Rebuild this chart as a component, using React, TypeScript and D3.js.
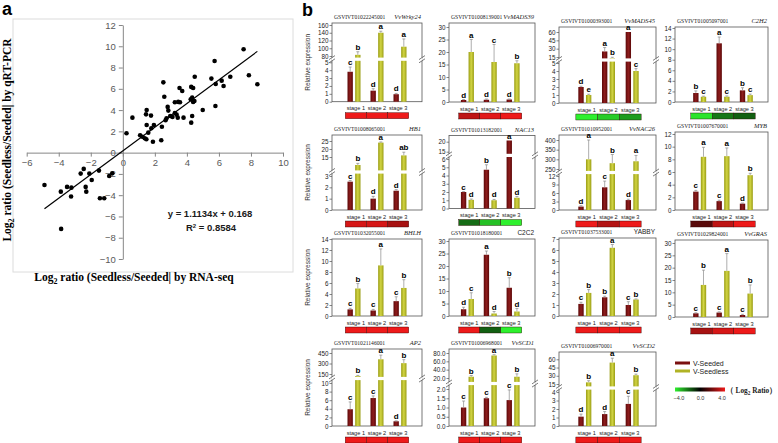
import React, { useEffect, useRef } from 'react';
import * as d3 from 'd3';

// ---- panel a: RNA-seq vs qRT-PCR ----
const rnaSeq = [
  7.54, 5.73, 7.87, 6.71, 4.49, 5.53, 6.17, 2.53, 5.8, 8.4, 6.29, 4.27, 3.54, 4.39, 3.71, 2.59, 4.33, 4.24,
  4.47, 3.46, 3.25, 3.57, 4.39, 4.99, 5.78, 1.49, 2.8, 2.84, 1.45, 1.76, 0.6, 3.25, 3.36, 2.96, 3.1, 3.43,
  3.79, 4.33, 2.73, 2.67, 1.49, 1.94, 2.44, 1.78, 4.27, 0.23, 1.59, 1.08, 1.22, 1.37, 1.47, 1.88, 2.4,
  -4.89, -3.87, -3.48, -3.21, -3.23, -2.63, -2.44, -2.09, -1.94, -2.32, -2.28, -1.49, -0.85, -0.66, -1.43,
  -1.16, -3.85,
];
const qPcr = [
  9.72, 8.62, 7.27, 7.14, 7.14, 6.96, 6.77, 6.61, 6.45, 6.43, 6.27, 6.18, 6.08, 6.08, 5.8, 5.26, 5.17, 5.02,
  4.86, 4.77, 4.74, 4.74, 4.77, 4.01, 4.39, 4.01, 4.3, 3.95, 3.6, 3.48, 3.29, 3.73, 3.57, 3.45, 3.35, 3.29,
  3.29, 3.45, 3.23, 3.05, 2.6, 2.6, 2.44, 2.29, 2.82, 1.82, 1.88, 1.63, 1.5, 1.35, 1.26, 1.03, 1.16,
  -3.04, -3.67, -3.22, -3.29, -4.13, -1.97, -1.53, -1.97, -2.57, -3.22, -3.67, -1.69, -2.19, -1.94, -4.29,
  -4.29, -7.17,
];
const slope = 1.1134;
const intercept = 0.168;
const rSquared = '0.8584';
const xTicksA = [-6, -4, -2, 0, 2, 4, 6, 8, 10];
const yTicksA = [12, 10, 8, 6, 4, 2, 0, -2, -4, -6, -8, -10];

// ---- panel b: relative expression ----
const stages = ['stage 1', 'stage 2', 'stage 3'];
const series = ['V-Seeded', 'V-Seedless'];
const geneIds = [
  'GSVIVT01022245001', 'GSVIVT01008139001', 'GSVIVT01000393001', 'GSVIVT01005097001',
  'GSVIVT01008065001', 'GSVIVT01013182001', 'GSVIVT01010952001', 'GSVIVT01007670001',
  'GSVIVT01032055001', 'GSVIVT01018180001', 'GSVIVT01037533001', 'GSVIVT01029824001',
  'GSVIVT01021146001', 'GSVIVT01006968001', 'GSVIVT01006970001',
];
const geneNames = [
  'VvWrky24', 'VvMADS39', 'VvMADS45', 'C2H2', 'HB1', 'NAC13', 'VvNAC26', 'MYB',
  'BHLH', 'C2C2', 'YABBY', 'VvGRAS', 'AP2', 'VvSCD1', 'VvSCD2',
];
const seededMean = [
  [3.8, 1.4, 0.95], [0.8, 0.9, 1.0], [2.0, 25, 60], [1.7, 11.1, 2.2],
  [2.5, 1.0, 1.7], [2.0, 4.7, 20.6], [1.2, 8.0, 3.5], [2.9, 1.4, 1.0],
  [1.2, 1.0, 2.7], [2.7, 24.5, 11.3], [1.1, 1.7, 1.0], [1.5, 1.8, 0.8],
  [3.9, 6.5, 1.1], [1.0, 1.5, 1.4], [1.1, 1.4, 2.6],
];
const seededErr = [
  [0.6, 0.25, 0.1], [0.2, 0.3, 0.2], [0.1, 7, 0], [0.4, 1.2, 0.5],
  [0.1, 0.2, 0.1], [0.05, 0.6, 0], [0.3, 2.2, 0.3], [0.2, 0.15, 0.1],
  [0.2, 0.2, 0.8], [0.8, 1.5, 4], [0.15, 0.1, 0.3], [0.2, 0.3, 0.3],
  [1.7, 0.5, 0.1], [0.35, 0.05, 0.55], [0.3, 0.3, 0.9],
];
const seededSig = [
  ['c', 'd', 'd'], ['d', 'd', 'd'], ['d', 'a', 'a'], ['b', 'a', 'b'],
  ['c', 'd', 'd'], ['c', 'b', 'a'], ['d', 'c', 'd'], ['c', 'c', 'd'],
  ['c', 'c', 'c'], ['d', 'a', 'b'], ['c', 'b', 'c'], ['c', 'c', 'c'],
  ['c', 'c', 'd'], ['c', 'c', 'c'], ['d', 'd', 'c'],
];
const seedlessMean = [
  [83, 140, 104], [20, 16, 15.5], [1.0, 13, 4.0], [1.0, 1.0, 1.3],
  [10, 24, 16], [1.05, 1.0, 1.3], [300, 280, 290], [8.4, 8.5, 5.5],
  [5.0, 9.2, 5.1], [6.8, 1.0, 1.8], [2.1, 6.2, 1.5], [13, 18.7, 9.5],
  [120, 360, 305], [23, 74, 23], [18, 54, 31],
];
const seedlessErr = [
  [8, 4, 20], [5, 7, 1], [0.1, 1.5, 0.3], [0.1, 0.15, 0.2],
  [1, 0.4, 2], [0.1, 0.1, 0.15], [100, 45, 30], [1.5, 1.3, 0.3],
  [0.9, 3.0, 1.5], [2.5, 0.8, 1.2], [0.3, 0.3, 0.05], [6, 7, 3.5],
  [10, 60, 50], [3, 2, 7], [3, 8, 2],
];
const seedlessSig = [
  ['b', 'a', 'a'], ['a', 'c', 'b'], ['e', 'b', 'c'], ['c', 'c', 'c'],
  ['b', 'a', 'ab'], ['d', 'd', 'd'], ['a', 'b', 'a'], ['a', 'a', 'b'],
  ['b', 'a', 'b'], ['c', 'd', 'd'], ['b', 'a', 'b'], ['b', 'a', 'b'],
  ['b', 'a', 'b'], ['b', 'a', 'b'], ['b', 'a', 'b'],
];
const lowTicks = [
  [0, 1, 2, 3, 4, 5], [0, 5, 10, 15, 20, 25, 30], [0, 1, 2, 3, 4, 5], [0, 2, 4, 6, 8, 10, 12, 14],
  [0, 1, 2, 3], [0, 1, 2, 3, 4, 5, 6], [0, 3, 6, 9, 12], [0, 2, 4, 6, 8, 10, 12],
  [0, 2, 4, 6, 8, 10, 12, 14], [0, 5, 10, 15, 20, 25, 30], [0, 1, 2, 3, 4, 5, 6, 7], [0, 5, 10, 15, 20, 25, 30],
  [0, 2, 4, 6, 8, 10], [0, 0.5, 1, 1.5, 2], [0, 1, 2, 3, 4],
];
const highTicks = [
  [80, 100, 120, 140, 160], null, [15, 30, 45, 60], null,
  [15, 20, 25], [15, 20], [250, 300, 350, 400], null,
  null, null, null, null,
  [150, 300, 450], [20, 40, 60, 80], [15, 30, 45, 60],
];
const tickDecimals = [0, 0, 0, 0, 0, 0, 0, 0, 0, 0, 0, 0, 0, 1, 0];
// log2 ratio (seedless/seeded) shown in the heat strip under each chart
const log2Ratio = [
  [4, 4, 4], [3.2, 3.8, 4], [-4, -3.4, -2.6], [-3.8, -2.0, -1.6],
  [3.6, 3.6, 2.8], [-1.8, -3.2, -4], [4, 3.0, 4], [1.5, 3.2, 4],
  [4, 4, 4], [4, -1.6, -4], [4, 4, 4], [2.8, 3.6, 4],
  [4, 4, 4], [4, 4, 4], [4, 4, 4],
];
const legendTicks = [-4, 0, 4];

// ---- layout (pixels) ----
const colBox = [[332, 422], [449, 535], [559, 656], [675, 768]];
const barRange = [[342.5, 411.5], [456, 524.5], [573, 644], [688, 758]];
const panelGeom = [
  { top: 23, zero: 101.7, lowTop: 62.3, high: [56, 25], brk: 59.2 },
  { top: 23, zero: 102, lowTop: 27 },
  { top: 27, zero: 103, lowTop: 63, high: [57, 32], brk: 60 },
  { top: 27, zero: 102, lowTop: 28 },
  { top: 135, zero: 210, lowTop: 176, high: [157, 141], brk: 172 },
  { top: 135.5, zero: 208.5, lowTop: 159, high: [151.7, 141.7], brk: 155.4 },
  { top: 135, zero: 210, lowTop: 176, high: [169, 140], brk: 172.5 },
  { top: 132, zero: 210, lowTop: 134 },
  { top: 239, zero: 316, lowTop: 239 },
  { top: 239, zero: 316, lowTop: 241 },
  { top: 238, zero: 316, lowTop: 239 },
  { top: 240, zero: 317, lowTop: 243 },
  { top: 349, zero: 426, lowTop: 383, high: [374, 353], brk: 378.5 },
  { top: 349, zero: 426, lowTop: 389, high: [378, 353], brk: 383.5 },
  { top: 352, zero: 426, lowTop: 392, high: [384, 359.3], brk: 388 },
];

const seededColor = '#7a1010';
const seedlessColor = '#b0b325';
const heat = d3.scaleLinear<string>().domain([-4, 0, 4]).range(['#2ef02e', '#000000', '#ee1a1a']).clamp(true);

const App = () => {
  const svgRef = useRef<SVGSVGElement | null>(null);

  useEffect(() => {
    const svg = d3.select(svgRef.current);
    svg.selectAll('*').remove();
    drawScatter(svg);
    drawBars(svg);
    drawLegend(svg);
  }, []);

  const drawScatter = (svg: any) => {
    svg.append('rect')
      .attr('x', 13).attr('y', 19).attr('width', 280).attr('height', 253)
      .attr('fill', 'none').attr('stroke', '#dcdcdc');

    svg.append('text')
      .attr('x', 2).attr('y', 15)
      .style('font', 'bold 18px Arial')
      .text('a');

    const x = d3.scaleLinear().domain([-6, 10]).range([26.7, 283]);
    const y = d3.scaleLinear().domain([-10, 12]).range([259, 25]);

    const styleAxis = (a: any) => {
      a.attr('font-size', 9.5).attr('font-family', 'Arial');
      a.select('.domain').attr('stroke', '#868686');
      a.selectAll('line').attr('stroke', '#868686');
      a.selectAll('text').attr('fill', '#595959');
    };

    svg.append('g')
      .attr('transform', `translate(0,${y(0)})`)
      .call(d3.axisBottom(x).tickValues(xTicksA).tickSize(4).tickSizeOuter(0))
      .call(styleAxis);

    svg.append('g')
      .attr('transform', `translate(${x(0)},0)`)
      .call(d3.axisLeft(y).tickValues(yTicksA).tickSize(4).tickSizeOuter(0))
      .call(styleAxis);

    const [xmin, xmax] = d3.extent(rnaSeq) as [number, number];
    svg.append('line')
      .attr('x1', x(xmin)).attr('y1', y(slope * xmin + intercept))
      .attr('x2', x(xmax)).attr('y2', y(slope * xmax + intercept))
      .attr('stroke', '#000').attr('stroke-width', 1.2);

    svg.append('g')
      .selectAll('circle')
      .data(rnaSeq)
      .join('circle')
      .attr('cx', (d: number) => x(d))
      .attr('cy', (d: number, i: number) => y(qPcr[i]))
      .attr('r', 2.3)
      .attr('fill', '#000');

    svg.append('text')
      .attr('x', 210).attr('y', 217)
      .attr('text-anchor', 'middle')
      .style('font', 'bold 9.5px Arial')
      .attr('fill', '#1a1a1a')
      .text(`y = ${slope}x + ${intercept}`);
    const r2 = svg.append('text')
      .attr('x', 211).attr('y', 231)
      .attr('text-anchor', 'middle')
      .style('font', 'bold 9.5px Arial')
      .attr('fill', '#1a1a1a');
    r2.append('tspan').text('R');
    r2.append('tspan').attr('dy', -3.5).style('font-size', '6px').text('2');
    r2.append('tspan').attr('dy', 3.5).text(` = ${rSquared}`);

    const logTitle = (sel: any, rest: string) => {
      sel.append('tspan').text('Log');
      sel.append('tspan').attr('dy', 3).style('font-size', '8px').text('2');
      sel.append('tspan').attr('dy', -3).text(rest);
    };

    const yt = svg.append('text')
      .attr('transform', 'translate(11,140) rotate(-90)')
      .attr('text-anchor', 'middle')
      .style('font', 'bold 11.5px "Liberation Serif", serif');
    logTitle(yt, ' ratio (Seedless/Seeded| by qRT-PCR');

    const xt = svg.append('text')
      .attr('x', 134).attr('y', 281)
      .attr('text-anchor', 'middle')
      .style('font', 'bold 11.5px "Liberation Serif", serif');
    logTitle(xt, ' ratio (Seedless/Seeded| by RNA-seq');
  };

  const drawBars = (svg: any) => {
    const defs = svg.append('defs');
    const grad = (id: string, edge: string, mid: string) => {
      const lg = defs.append('linearGradient').attr('id', id).attr('x1', 0).attr('x2', 1).attr('y1', 0).attr('y2', 0);
      lg.append('stop').attr('offset', '0%').attr('stop-color', edge);
      lg.append('stop').attr('offset', '50%').attr('stop-color', mid);
      lg.append('stop').attr('offset', '100%').attr('stop-color', edge);
    };
    grad('gSeeded', '#5c0808', '#8e1d1d');
    grad('gSeedless', '#9a9d14', '#d2d544');

    svg.append('text')
      .attr('x', 302).attr('y', 16)
      .style('font', 'bold 18px Arial')
      .text('b');

    geneIds.forEach((id, i) => {
      const col = i % 4;
      const geo: any = panelGeom[i];
      const [x0, x1] = colBox[col];
      const g = svg.append('g');

      const xStage = d3.scaleBand().domain(stages).range(barRange[col] as [number, number]);
      const xSeries = d3.scaleBand().domain(series).range([-6.5, 6.5]).paddingInner(0.3);

      const low = lowTicks[i];
      const high = highTicks[i];
      const lowMax = low[low.length - 1];
      const yLow = d3.scaleLinear().domain([0, lowMax]).range([geo.zero, geo.lowTop]);
      const yHigh = high ? d3.scaleLinear().domain([high[0], high[high.length - 1]]).range(geo.high) : null;
      const yOf = (v: number) => (yHigh && v > lowMax ? yHigh(v) : yLow(v));
      const fmt = tickDecimals[i] ? d3.format('.1f') : d3.format('d');

      // frame
      g.append('rect')
        .attr('x', x0).attr('y', geo.top)
        .attr('width', x1 - x0).attr('height', geo.zero - geo.top)
        .attr('fill', 'none').attr('stroke', '#555').attr('stroke-width', 0.8);

      const styleAxis = (a: any) => {
        a.attr('font-size', 6.3).attr('font-family', 'Arial');
        a.select('.domain').remove();
        a.selectAll('line').attr('stroke', '#555').attr('stroke-width', 0.7);
        a.selectAll('text').attr('fill', '#222').attr('x', -3.5);
      };
      g.append('g')
        .attr('transform', `translate(${x0},0)`)
        .call(d3.axisLeft(yLow).tickValues(low).tickFormat(fmt).tickSize(2.5).tickSizeOuter(0))
        .call(styleAxis);
      if (yHigh) {
        g.append('g')
          .attr('transform', `translate(${x0},0)`)
          .call(d3.axisLeft(yHigh).tickValues(high).tickFormat(fmt).tickSize(2.5).tickSizeOuter(0))
          .call(styleAxis);
      }

      const rows = stages.map((s, j) => [
        { stage: s, key: series[0], v: seededMean[i][j], e: seededErr[i][j], t: seededSig[i][j] },
        { stage: s, key: series[1], v: seedlessMean[i][j], e: seedlessErr[i][j], t: seedlessSig[i][j] },
      ]).flat();
      const bx = (d: any) => (xStage(d.stage) as number) + xStage.bandwidth() / 2 + (xSeries(d.key) as number);
      const bw = xSeries.bandwidth();

      g.selectAll('.bar')
        .data(rows)
        .join('rect')
        .attr('class', 'bar')
        .attr('x', bx)
        .attr('width', bw)
        .attr('y', (d: any) => yOf(d.v))
        .attr('height', (d: any) => geo.zero - yOf(d.v))
        .attr('fill', (d: any) => (d.key === series[0] ? 'url(#gSeeded)' : 'url(#gSeedless)'));

      const errs = rows.filter((d: any) => d.e > 0);
      g.selectAll('.err')
        .data(errs)
        .join('line')
        .attr('class', 'err')
        .attr('x1', (d: any) => bx(d) + bw / 2).attr('x2', (d: any) => bx(d) + bw / 2)
        .attr('y1', (d: any) => yOf(d.v)).attr('y2', (d: any) => yOf(d.v + d.e))
        .attr('stroke', '#8a8a8a').attr('stroke-width', 0.7);
      g.selectAll('.cap')
        .data(errs)
        .join('line')
        .attr('class', 'cap')
        .attr('x1', (d: any) => bx(d) + bw / 2 - 1.5).attr('x2', (d: any) => bx(d) + bw / 2 + 1.5)
        .attr('y1', (d: any) => yOf(d.v + d.e)).attr('y2', (d: any) => yOf(d.v + d.e))
        .attr('stroke', '#8a8a8a').attr('stroke-width', 0.7);

      // axis break
      if (yHigh) {
        g.append('rect')
          .attr('x', x0 - 0.6).attr('y', geo.brk - 1.6)
          .attr('width', x1 - x0 + 1.2).attr('height', 3.2)
          .attr('fill', '#fff');
        [x0, x1].forEach((ex) => {
          [-1.6, 1.6].forEach((dy) => {
            g.append('line')
              .attr('x1', ex - 3).attr('y1', geo.brk + dy + 2)
              .attr('x2', ex + 3).attr('y2', geo.brk + dy - 2)
              .attr('stroke', '#444').attr('stroke-width', 0.7);
          });
        });
      }

      g.selectAll('.sig')
        .data(rows)
        .join('text')
        .attr('class', 'sig')
        .attr('x', (d: any) => bx(d) + bw / 2)
        .attr('y', (d: any) => yOf(d.v + d.e) - 2)
        .attr('text-anchor', 'middle')
        .style('font', 'bold 8px Arial')
        .text((d: any) => d.t);

      // titles
      g.append('text')
        .attr('x', x0 + 2).attr('y', geo.top - 4)
        .style('font', '5.6px "Liberation Serif", serif')
        .attr('fill', '#222')
        .text(id);
      const upright = geneNames[i] === 'C2C2' || geneNames[i] === 'YABBY';
      g.append('text')
        .attr('x', x1 - 1).attr('y', geo.top - 4)
        .attr('text-anchor', 'end')
        .style('font', upright ? '6.5px Arial' : 'italic 6.5px "Liberation Serif", serif')
        .attr('fill', '#222')
        .text(geneNames[i]);

      if (col === 0) {
        g.append('text')
          .attr('transform', `translate(310,${(geo.top + geo.zero) / 2}) rotate(-90)`)
          .attr('text-anchor', 'middle')
          .style('font', '6.5px Arial')
          .attr('fill', '#333')
          .text('Relative expression');
      }

      // stage labels and heat strip
      const cellW = xStage.step() * 0.92;
      const mid = (xStage(stages[1]) as number) + xStage.bandwidth() / 2;
      const cellX = (j: number) => mid - 1.5 * cellW + j * cellW;
      g.selectAll('.stage')
        .data(stages)
        .join('text')
        .attr('class', 'stage')
        .attr('x', (s: string, j: number) => cellX(j) + cellW / 2)
        .attr('y', geo.zero + 8.5)
        .attr('text-anchor', 'middle')
        .style('font', '5.6px Arial')
        .attr('fill', '#222')
        .text((s: string) => s);
      g.selectAll('.cell')
        .data(stages)
        .join('rect')
        .attr('class', 'cell')
        .attr('x', (s: string, j: number) => cellX(j))
        .attr('y', geo.zero + 11)
        .attr('width', cellW)
        .attr('height', 6)
        .attr('fill', (s: string, j: number) => heat(log2Ratio[i][j]))
        .attr('stroke', '#2a0000')
        .attr('stroke-width', 0.4);
    });
  };

  const drawLegend = (svg: any) => {
    const lg = svg.append('g');
    series.forEach((s, k) => {
      const yy = 363 + k * 8;
      lg.append('line')
        .attr('x1', 675).attr('x2', 690).attr('y1', yy).attr('y2', yy)
        .attr('stroke', k === 0 ? seededColor : seedlessColor).attr('stroke-width', 3);
      lg.append('text')
        .attr('x', 693).attr('y', yy + 2.5)
        .style('font', '7px Arial')
        .attr('fill', '#222')
        .text(s);
    });

    const grad = svg.select('defs').append('linearGradient').attr('id', 'gHeat');
    legendTicks.forEach((t, k) => {
      grad.append('stop').attr('offset', `${(k / (legendTicks.length - 1)) * 100}%`).attr('stop-color', heat(t));
    });
    const xs = d3.scaleLinear().domain([-4, 4]).range([679, 722]);
    lg.append('rect')
      .attr('x', 675).attr('y', 387.5).attr('width', 50).attr('height', 4)
      .attr('fill', 'url(#gHeat)');
    lg.selectAll('.lt')
      .data(legendTicks)
      .join('text')
      .attr('class', 'lt')
      .attr('x', (d: number) => xs(d))
      .attr('y', 400)
      .attr('text-anchor', 'middle')
      .style('font', '5.5px Arial')
      .attr('fill', '#333')
      .text((d: number) => d3.format('.1f')(d));

    const t = lg.append('text')
      .attr('x', 726).attr('y', 392.5)
      .attr('textLength', 51)
      .attr('lengthAdjust', 'spacingAndGlyphs')
      .style('font', 'bold 7.5px "Liberation Serif", serif')
      .attr('fill', '#222');
    t.append('tspan').text('（ Log');
    t.append('tspan').attr('dy', 2.2).style('font-size', '5.5px').text('2');
    t.append('tspan').attr('dy', -2.2).text(' Ratio）');
  };

  return (
    <svg
      ref={svgRef}
      width={778}
      height={443}
      style={{ position: 'absolute', left: 0, top: 0, background: '#fff' }}
    ></svg>
  );
};

export default App;
